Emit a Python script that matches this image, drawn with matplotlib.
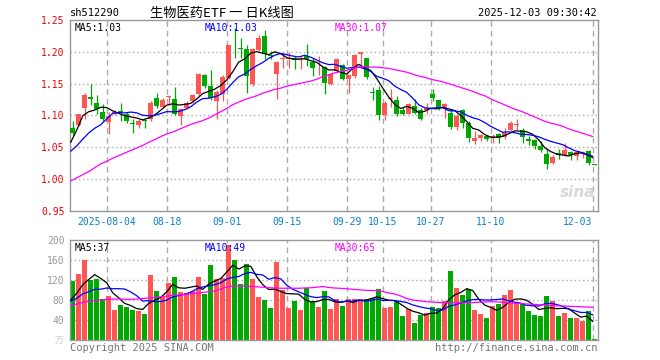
import numpy as np
import pandas as pd
import matplotlib
matplotlib.use("Agg")
import matplotlib.pyplot as plt

# daily candles, 2025-07-25 .. 2025-12-03 (88 trading days)
opens = [1.080, 1.085, 1.1125, 1.129, 1.120, 1.106, 1.090, 1.102, 1.107, 1.102,
         1.089, 1.0854, 1.093, 1.094, 1.128, 1.1135, 1.129, 1.1255, 1.0995, 1.1125,
         1.122, 1.1333, 1.163, 1.146, 1.122, 1.134, 1.159, 1.2095, 1.205, 1.2052,
         1.150, 1.2036, 1.2245, 1.194, 1.1646, 1.189, 1.189, 1.1906, 1.189, 1.193,
         1.184, 1.177, 1.176, 1.149, 1.170, 1.179, 1.1568, 1.162, 1.197, 1.1896,
         1.1375, 1.1396, 1.101, 1.126, 1.124, 1.1083, 1.103, 1.115, 1.108, 1.108,
         1.133, 1.124, 1.1135, 1.1036, 1.0823, 1.1083, 1.088, 1.0594, 1.0646, 1.068,
         1.0646, 1.071, 1.0667, 1.077, 1.085, 1.0776, 1.063, 1.0615, 1.0516, 1.0396,
         1.025, 1.0406, 1.0385, 1.042, 1.037, 1.041, 1.0448, 1.0245]
highs = [1.092, 1.103, 1.136, 1.149, 1.132, 1.118, 1.105, 1.108, 1.119, 1.106,
         1.095, 1.094, 1.095, 1.123, 1.136, 1.127, 1.132, 1.145, 1.111, 1.123,
         1.133, 1.166, 1.165, 1.172, 1.140, 1.164, 1.211, 1.2375, 1.222, 1.211,
         1.206, 1.227, 1.235, 1.201, 1.186, 1.198, 1.199, 1.193, 1.194, 1.213,
         1.190, 1.194, 1.177, 1.167, 1.190, 1.181, 1.165, 1.196, 1.1995, 1.191,
         1.1448, 1.146, 1.1224, 1.142, 1.131, 1.1135, 1.120, 1.1255, 1.111, 1.120,
         1.141, 1.124, 1.119, 1.110, 1.102, 1.110, 1.092, 1.076, 1.071, 1.068,
         1.071, 1.073, 1.081, 1.092, 1.094, 1.081, 1.068, 1.063, 1.060, 1.049,
         1.038, 1.047, 1.0562, 1.045, 1.045, 1.045, 1.046, 1.0245]
lows = [1.070, 1.084, 1.094, 1.116, 1.102, 1.091, 1.071, 1.101, 1.092, 1.088,
        1.073, 1.081, 1.081, 1.092, 1.112, 1.112, 1.117, 1.101, 1.0854, 1.110,
        1.120, 1.131, 1.143, 1.124, 1.094, 1.123, 1.158, 1.190, 1.190, 1.136,
        1.146, 1.202, 1.188, 1.188, 1.1255, 1.175, 1.175, 1.1724, 1.173, 1.178,
        1.162, 1.164, 1.133, 1.148, 1.169, 1.1555, 1.135, 1.159, 1.176, 1.1575,
        1.124, 1.0927, 1.0927, 1.1135, 1.099, 1.1005, 1.102, 1.103, 1.093, 1.102,
        1.123, 1.108, 1.0958, 1.079, 1.077, 1.080, 1.0578, 1.055, 1.0594, 1.0594,
        1.0563, 1.0573, 1.063, 1.076, 1.077, 1.0573, 1.054, 1.047, 1.042, 1.016,
        1.024, 1.0313, 1.037, 1.030, 1.030, 1.034, 1.023, 1.022]
closes = [1.073, 1.102, 1.132, 1.126, 1.110, 1.095, 1.0995, 1.106, 1.106, 1.091,
          1.0865, 1.0906, 1.092, 1.120, 1.115, 1.124, 1.130, 1.103, 1.110, 1.120,
          1.132, 1.1646, 1.146, 1.127, 1.1375, 1.160, 1.210, 1.2085, 1.204, 1.162,
          1.205, 1.222, 1.196, 1.193, 1.1844, 1.190, 1.191, 1.1865, 1.190, 1.188,
          1.175, 1.178, 1.1516, 1.1656, 1.188, 1.157, 1.1635, 1.1948, 1.199, 1.160,
          1.136, 1.101, 1.120, 1.128, 1.103, 1.103, 1.1177, 1.1047, 1.095, 1.1125,
          1.127, 1.1125, 1.1177, 1.0823, 1.0995, 1.0885, 1.0646, 1.0646, 1.0693, 1.063,
          1.068, 1.0646, 1.072, 1.089, 1.0856, 1.0656, 1.0594, 1.0526, 1.0458, 1.024,
          1.0354, 1.0385, 1.0458, 1.0385, 1.042, 1.042, 1.025, 1.023]
# volume, 万手
volumes = [118.7, 132.7, 160, 120, 122, 81.3, 88.7, 60, 70, 66,
           60, 58, 52, 130.7, 98, 86.7, 114.7, 126, 96.7, 93.3,
           98, 126, 92, 150.7, 122, 124.7, 190, 160, 112.7, 152.7,
           122, 86, 80, 64, 156.7, 99.3, 64, 78, 60, 104.7,
           75.3, 66, 98, 62, 81.3, 68, 82, 82, 82, 82,
           84, 102, 64, 66, 78, 48, 62, 34, 50, 55,
           66, 64, 78.7, 138, 104, 90.7, 102, 60, 52, 44,
           68, 72, 90.7, 100, 76.7, 72, 58, 50, 48, 88,
           78.7, 48, 54, 44, 44, 38.7, 58, 2]

# sessions before the first candle (off-chart, estimated from the MA lines)
prior_closes = [1.020, 1.025, 1.030, 1.035, 1.040, 1.007, 1.020, 1.093, 1.097]
prior_volumes = [80, 70, 78, 72, 80, 65, 75, 68, 73.3]

# 30-day averages
ma30_price = [0.997, 1.002, 1.007, 1.012, 1.018, 1.024, 1.028, 1.033, 1.037, 1.041,
              1.045, 1.049, 1.053, 1.058, 1.062, 1.067, 1.071, 1.074, 1.078, 1.082,
              1.086, 1.089, 1.092, 1.096, 1.101, 1.106, 1.111, 1.117, 1.121, 1.125,
              1.128, 1.131, 1.135, 1.138, 1.141, 1.143, 1.146, 1.148, 1.150, 1.152,
              1.154, 1.157, 1.161, 1.164, 1.167, 1.169, 1.171, 1.174, 1.176, 1.177,
              1.176, 1.176, 1.175, 1.174, 1.172, 1.170, 1.168, 1.165, 1.162, 1.160,
              1.157, 1.155, 1.153, 1.150, 1.147, 1.144, 1.141, 1.138, 1.134, 1.131,
              1.126, 1.122, 1.118, 1.114, 1.110, 1.107, 1.103, 1.099, 1.095, 1.091,
              1.088, 1.086, 1.083, 1.079, 1.076, 1.073, 1.070, 1.067]
ma30_volume = [69, 72, 75, 77, 79, 80, 81, 82, 82, 81.5,
               81.3, 82, 83, 84, 85, 86.5, 88, 89, 90, 91,
               92.5, 93.5, 95, 96.5, 98, 102, 106, 108, 108, 108,
               107.5, 106.5, 105.5, 104.5, 104, 103.5, 103.5, 103.5, 103.5, 104,
               104.5, 105.5, 107, 105, 104, 103.3, 102.5, 101.5, 100.5, 99.5,
               99, 98.7, 97, 94, 92, 88, 83, 80, 78.5, 77,
               76, 75.3, 74.7, 74.7, 74.7, 74.7, 74.7, 74.7, 75.5, 76,
               76.7, 76, 75.5, 74.7, 73.5, 73, 72, 71.5, 70.5, 70,
               69, 68.3, 68, 67.5, 67, 66.5, 66, 65.5]

tick_idx = [6, 16, 26, 36, 46, 52, 60, 70, 87]
tick_labels = ["2025-08-04", "08-18", "09-01", "09-15", "09-29",
               "10-15", "10-27", "11-10", "12-03"]

RED = "#ff5555"
GREEN = "#00a800"
MONO = "DejaVu Sans Mono"
W, H = 660, 360

o = np.array(opens)
c = np.array(closes)
hi = np.array(highs)
lo = np.array(lows)
v = np.array(volumes)
n = len(c)
idx = np.arange(n)
up = c >= o
cols = np.where(up, RED, GREEN)

cs = pd.Series(prior_closes + closes)
ma5 = cs.rolling(5).mean().to_numpy()[len(prior_closes):]
ma10 = cs.rolling(10).mean().to_numpy()[len(prior_closes):]
vs = pd.Series(prior_volumes + volumes)
vma5 = vs.rolling(5).mean().to_numpy()[len(prior_volumes):]
vma10 = vs.rolling(10).mean().to_numpy()[len(prior_volumes):]

fig = plt.figure(figsize=(W / 100, H / 100), dpi=100)
fig.patch.set_facecolor("white")


def box(x0, y0, x1, y1):
    return [x0 / W, 1 - y1 / H, (x1 - x0) / W, (y1 - y0) / H]


def style(ax):
    for s in ax.spines.values():
        s.set_color("#999999")
        s.set_linewidth(1)
    ax.tick_params(length=0, pad=4)
    for t in tick_idx:
        ax.axvline(t, color="#aaaaaa", lw=1, ls=(0, (4, 3)), zorder=0)


xoff = 0.3  # candle bodies sit a little right of the grid point
xlim = (-0.12, 87.88)

# price panel
ax = fig.add_axes(box(70, 20, 598, 211))
style(ax)
ax.set_xlim(*xlim)
ax.set_ylim(0.95, 1.25)
for y in [1.00, 1.05, 1.10, 1.15, 1.20]:
    ax.axhline(y, color="#aaaaaa", lw=1, ls=(0, (1, 2)), zorder=0)
ax.vlines(idx + xoff, lo, hi, colors=cols, lw=0.9, zorder=2)
body = np.maximum(np.abs(c - o), 0.0014)
ax.bar(idx + xoff, body, bottom=np.minimum(o, c), width=0.76, color=cols,
       lw=0, zorder=3)
ax.plot(idx, ma5, color="black", lw=0.9, zorder=4)
ax.plot(idx, ma10, color="#0000ff", lw=0.9, zorder=4)
ax.plot(idx, ma30_price, color="#ff00ff", lw=0.9, zorder=4)
ax.set_yticks([0.95, 1.00, 1.05, 1.10, 1.15, 1.20, 1.25])
ax.set_yticklabels([f"{t:.2f}" for t in ax.get_yticks()], color="#ee0000",
                   family=MONO, fontsize=7)
ax.set_xticks(tick_idx)
ax.set_xticklabels([])
ax.text(0.008, 0.985, "MA5:1.03", transform=ax.transAxes, va="top",
        family=MONO, fontsize=7, color="black")
ax.text(0.255, 0.985, "MA10:1.03", transform=ax.transAxes, va="top",
        family=MONO, fontsize=7, color="#0000ff")
ax.text(0.502, 0.985, "MA30:1.07", transform=ax.transAxes, va="top",
        family=MONO, fontsize=7, color="#ff00ff")
ax.text(0.995, 0.06, "sina", transform=ax.transAxes, ha="right", va="bottom",
        fontsize=11, style="italic", weight="bold", color="#d8d8d8", zorder=1)

# date labels
for t, lab in zip(tick_idx, tick_labels):
    xp = 70 + (t - xlim[0]) * 6
    ha = "center"
    if lab == "12-03":
        ha = "right"
        xp += 0
    fig.text(xp / W, 1 - 222 / H, lab, ha=ha, va="center", family=MONO,
             fontsize=7, color="#0a7fd0")

# volume panel
ax2 = fig.add_axes(box(70, 240, 598, 340))
style(ax2)
ax2.set_xlim(*xlim)
ax2.set_ylim(0, 200)
for y in [40, 80, 120, 160]:
    ax2.axhline(y, color="#aaaaaa", lw=1, ls=(0, (1, 2)), zorder=0)
ax2.bar(idx + xoff, v, width=0.8, color=cols, lw=0, zorder=2)
ax2.plot(idx, vma5, color="black", lw=0.9, zorder=4)
ax2.plot(idx, vma10, color="#0000ff", lw=0.9, zorder=4)
ax2.plot(idx, ma30_volume, color="#ff00ff", lw=0.9, zorder=4)
ax2.set_yticks([40, 80, 120, 160, 200])
ax2.set_yticklabels(["40", "80", "120", "160", "200"], color="#999999",
                    family=MONO, fontsize=7)
ax2.set_xticks(tick_idx)
ax2.set_xticklabels([])
ax2.text(0.008, 0.97, "MA5:37", transform=ax2.transAxes, va="top",
         family=MONO, fontsize=7, color="black")
ax2.text(0.255, 0.97, "MA10:49", transform=ax2.transAxes, va="top",
         family=MONO, fontsize=7, color="#0000ff")
ax2.text(0.502, 0.97, "MA30:65", transform=ax2.transAxes, va="top",
         family=MONO, fontsize=7, color="#ff00ff")

# header and footer
fig.text(70 / W, 1 - 13 / H, "sh512290", family=MONO, fontsize=7.5,
         va="center", color="black")
fig.text(222 / W, 1 - 13 / H, "生物医药ETF 一 日K线图", ha="center", va="center",
         family=["Noto Sans CJK SC", "DejaVu Sans"], fontsize=9.5, color="black")
fig.text(597 / W, 1 - 13 / H, "2025-12-03 09:30:42", ha="right", va="center",
         family=MONO, fontsize=7.5, color="black")
fig.text(64 / W, 1 - 341 / H, "万", ha="right", va="center",
         family=["Noto Sans CJK SC", "DejaVu Sans"], fontsize=6.5, color="#cccccc")
fig.text(70 / W, 1 - 348 / H, "Copyright 2025 SINA.COM", va="center",
         family=MONO, fontsize=7.5, color="#777777")
fig.text(597 / W, 1 - 348 / H, "http://finance.sina.com.cn", ha="right",
         va="center", family=MONO, fontsize=7.5, color="#777777")

fig.savefig("out.png", dpi=100)
